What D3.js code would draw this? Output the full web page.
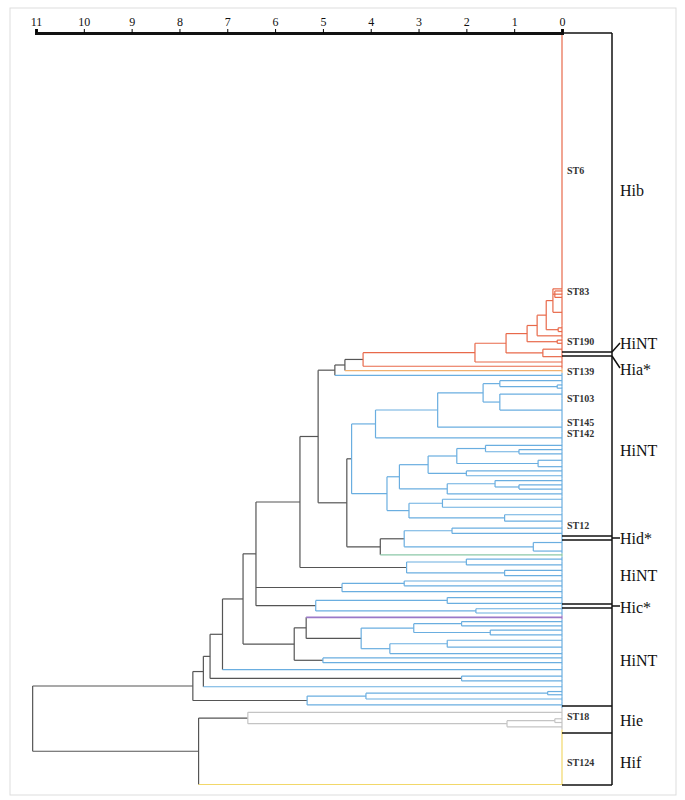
<!DOCTYPE html>
<html><head><meta charset="utf-8">
<script src="https://cdn.jsdelivr.net/npm/d3@7"></script>
<style>body{margin:0;background:#fff}text{font-family:"Liberation Serif",serif}</style>
</head><body><svg id="c" width="685" height="800"></svg>
<script>
// axis ticks (distance)
const tickValues = [11,10,9,8,7,6,5,4,3,2,1,0];
// dendrogram: [height, children...]; leaf = colour code + relative vertical span (+ "v" = joined at its bottom)
const red = [4.16,[1.82,[1.17,[0.73,[0.52,[0.33,[0.19,"r240v",[0.15,"r3","r3","r3"],"r25"],[0.08,"r4","r3"]],"r5"],[0.1,"r3","r3"]],[0.4,"r8","r6"]],"r4"],"r4"];
const topGroup = [4.75,[4.54,red,"o4"],"b5"];
const blockB1 = [3.9,[2.6,[1.65,[1.3,"b5",[0.1,"b3","b3"]],[1.3,"b8","b22"]],"b10"],"b10"];
const blockB2 = [3.66,[3.4,[2.8,[2.2,[1.6,"b4",[0.9,"b4","b4"]],[0.5,"b8","b4"]],[2.0,"b4","b5"]],[2.4,[1.4,"b4",[0.9,"b4","b4"]],"b5"]],[3.2,[2.5,"b5","b10"],[1.2,"b4","b8"]]];
const blockB3 = [3.8,[3.3,[2.3,"b5","b5"],[0.6,"b12","b4"]],"t3"];
const blockH2a = [3.25,[2.0,"b5","b6"],[1.2,"b4","b6"]];
const blockH2b = [4.6,[3.3,"b4","b5"],"b6"];
const blockH2c = [5.15,[2.4,"b5","b6"],[1.8,"b4","b4"]];
const blockHic = [5.6,[5.35,"p4",[4.2,[3.1,[2.1,"b4","b4"],[1.5,"b4","b5"]],[3.6,[2.4,"b5","b8"],"b4"]]],[5.0,"b4","b5"]];
const blockLow = [5.33,[4.1,[0.3,"b3","b3"],"b5"],"b6"];
const blockHie = [6.57,"g8",[1.15,[0.15,"g4","g3"],"g5"]];
const tree = [11.07,
  [7.72,[7.5,[7.36,[7.1,[6.67,[6.4,[5.48,[5.1,topGroup,[4.5,[4.4,blockB1,blockB2],blockB3]],blockH2a],blockH2b,blockH2c],blockHic],"b8"],[2.1,"b4","b5"]],"b6"],blockLow],
  [7.6,blockHie,"y52v"]];
const stLabels = [["ST6",170],["ST83",291],["ST190",341],["ST139",371],["ST103",398],["ST145",422],["ST142",433],["ST12",525],["ST18",716],["ST124",762]];
const groupLabels = [["Hib",190],["HiNT",343],["Hia*",369],["HiNT",450],["Hid*",538],["HiNT",575],["Hic*",607],["HiNT",660],["Hie",720],["Hif",762]];
const colors = {r:"#e8694a",b:"#6aaee0",o:"#f0b070",g:"#c4c4c4",y:"#f2d86a",p:"#9a78c8",t:"#8cc8a8",k:"#555"};

const svg = d3.select("#c");
svg.append("rect").attr("x",10).attr("y",8).attr("width",666).attr("height",787).attr("fill","none").attr("stroke","#ddd");
const x = d3.scaleLinear().domain([11,0]).range([36,562]);
const top0 = 33, bot0 = 785;
const root = d3.hierarchy(tree, d => Array.isArray(d) ? d.slice(1) : null);
const span = s => parseFloat(s.slice(1));
const totalSpan = d3.sum(root.leaves(), l => span(l.data));
const y = d3.scaleLinear().domain([0,totalSpan]).range([top0,bot0]);
let cur = 0;
root.eachAfter(n => {
  if (!n.children) { const s=span(n.data); n.y0=y(cur); n.y1=y(cur+s); cur+=s;
    n.yy = n.data.endsWith("v") ? n.y1 - 0.5 : (n.y0+n.y1)/2; n.h=0; n.col=n.data[0]; }
  else { n.h=n.data[0]; n.yy=(n.children[0].yy+n.children[n.children.length-1].yy)/2;
    const cs=new Set(n.children.map(c=>c.col)); n.col = cs.size===1 ? [...cs][0] : "k"; }
});
const g = svg.append("g").attr("fill","none");
root.each(n => {
  if (!n.children) {
    g.append("line").attr("x1",x(0)).attr("x2",x(0)).attr("y1",n.y0).attr("y2",n.y1).attr("stroke",colors[n.col]).attr("stroke-width",1.2);
    return;
  }
  g.append("line").attr("x1",x(n.h)).attr("x2",x(n.h)).attr("y1",n.children[0].yy).attr("y2",n.children[n.children.length-1].yy)
    .attr("stroke",colors[n.col]).attr("stroke-width",1.2);
  n.children.forEach(c => {
    const col = (!c.children || c.col===n.col) ? c.col : "k";
    g.append("line").attr("x1",x(n.h)).attr("x2",x(c.h)).attr("y1",c.yy).attr("y2",c.yy).attr("stroke",colors[col]).attr("stroke-width",c.col==="p"?1.8:1.2);
  });
});
// axis
const ax = svg.append("g").attr("transform",`translate(0,${top0})`).call(d3.axisTop(x).tickValues(tickValues).tickSize(4).tickFormat(d3.format("d")));
ax.select(".domain").attr("stroke","#111").attr("stroke-width",3);
ax.selectAll("text").attr("font-size",12).attr("font-family","Liberation Serif").attr("fill","#111");
// ST labels
svg.selectAll("text.st").data(stLabels).join("text").attr("class","st").attr("x",567).attr("y",d=>d[1]).attr("dy","0.35em")
  .attr("font-size",10).attr("font-weight","bold").attr("fill","#333").text(d=>d[0]);
// right brackets
const b = svg.append("g").attr("stroke","#111").attr("stroke-width",1.5).attr("fill","none");
b.append("line").attr("x1",612).attr("x2",612).attr("y1",top0).attr("y2",bot0);
[top0,706,733,bot0].forEach(v=>b.append("line").attr("x1",562).attr("x2",612).attr("y1",v).attr("y2",v));
[[352,356],[536,540],[604,608]].forEach(([a,c])=>{[a,c].forEach(v=>b.append("line").attr("x1",562).attr("x2",612).attr("y1",v).attr("y2",v));});
b.append("path").attr("d","M612,352L620,343M612,356L620,368");
b.append("line").attr("x1",612).attr("x2",620).attr("y1",538).attr("y2",538);
b.append("line").attr("x1",612).attr("x2",620).attr("y1",606).attr("y2",606);
svg.selectAll("text.grp").data(groupLabels).join("text").attr("class","grp").attr("x",620).attr("y",d=>d[1]).attr("dy","0.35em")
  .attr("font-size",16).attr("fill","#111").text(d=>d[0]);
</script></body></html>
